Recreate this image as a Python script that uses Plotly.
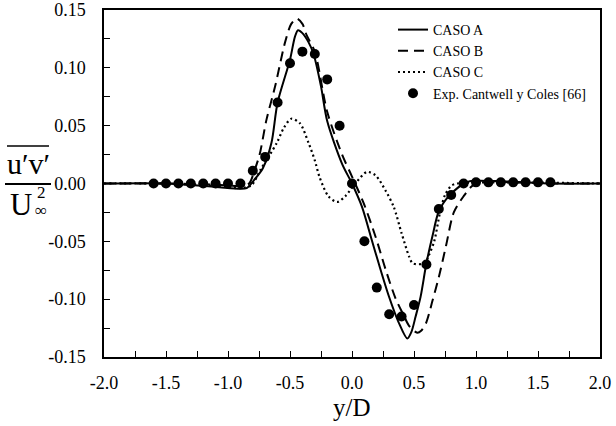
import plotly.graph_objects as go

# ---------------- data ----------------
caso_a_x = [-2.0, -1.5, -1.1, -0.9, -0.85, -0.79, -0.72, -0.65, -0.6, -0.5, -0.46, -0.435, -0.4,
            -0.35, -0.31, -0.25, -0.2, -0.08, 0.0, 0.08, 0.16, 0.215, 0.296, 0.376, 0.446, 0.48,
            0.513, 0.553, 0.6, 0.65, 0.7, 0.78, 0.85, 0.9, 0.95, 1.2, 1.4, 1.6, 2.0]
caso_a_y = [0.0, 0.0, -0.003, -0.0046, -0.004, 0.003, 0.013, 0.035, 0.07, 0.107, 0.127, 0.1325, 0.130,
            0.122, 0.112, 0.084, 0.054, 0.017, 0.0, -0.02, -0.049, -0.069, -0.097, -0.12, -0.134, -0.128,
            -0.115, -0.098, -0.069, -0.045, -0.024, -0.011, -0.004, 0.0, 0.002, 0.002, 0.001, 0.0, 0.0]

caso_b_x = [-2.0, -1.5, -1.1, -0.9, -0.83, -0.785, -0.745, -0.69, -0.62, -0.54, -0.49, -0.446, -0.4,
            -0.365, -0.3, -0.2, -0.08, 0.0, 0.094, 0.19, 0.27, 0.35, 0.417, 0.46, 0.526, 0.56,
            0.596, 0.65, 0.7, 0.758, 0.821, 0.9, 0.97, 1.05, 1.3, 1.6, 2.0]
caso_b_y = [0.0, 0.0, -0.001, -0.002, 0.0, 0.0117, 0.025, 0.055, 0.084, 0.122, 0.138, 0.1426, 0.138,
            0.128, 0.114, 0.062, 0.025, 0.006, -0.017, -0.046, -0.074, -0.099, -0.114, -0.123, -0.129, -0.127,
            -0.121, -0.101, -0.081, -0.054, -0.025, -0.011, -0.002, 0.001, 0.001, 0.0, 0.0]

caso_c_x = [-2.0, -1.5, -1.1, -0.9, -0.81, -0.74, -0.607, -0.55, -0.49, -0.42, -0.35, -0.30, -0.26,
            -0.19, -0.12, -0.054, 0.027, 0.12, 0.19, 0.27, 0.336, 0.40, 0.46, 0.49, 0.585, 0.62,
            0.663, 0.71, 0.75, 0.8, 0.85, 1.2, 2.0]
caso_c_y = [0.0, 0.0, -0.002, -0.004, -0.0014, 0.0115, 0.035, 0.048, 0.056, 0.052, 0.035, 0.02, 0.005,
            -0.011, -0.016, -0.011, 0.0, 0.01, 0.007, -0.006, -0.02, -0.043, -0.063, -0.069, -0.069, -0.062,
            -0.05, -0.025, -0.01, -0.002, 0.0, 0.001, 0.0]

exp_x = [-1.6, -1.5, -1.4, -1.3, -1.2, -1.1, -1.0, -0.9, -0.8, -0.7, -0.6, -0.5, -0.4, -0.3, -0.2,
         -0.1, 0.0, 0.1, 0.2, 0.3, 0.4, 0.5, 0.6, 0.7, 0.8, 0.9, 1.0, 1.1, 1.2, 1.3, 1.4, 1.5, 1.6]
exp_y = [0.0, 0.0, 0.0, 0.0, 0.0, 0.0, 0.0, 0.0, 0.011, 0.023, 0.070, 0.104, 0.114, 0.112, 0.090,
         0.050, 0.0, -0.050, -0.090, -0.113, -0.115, -0.105, -0.070, -0.022, -0.010, 0.0, 0.001,
         0.001, 0.001, 0.001, 0.001, 0.001, 0.001]

x_tickvals = [-2.0, -1.5, -1.0, -0.5, 0.0, 0.5, 1.0, 1.5, 2.0]
x_ticktext = ["-2.0", "-1.5", "-1.0", "-0.5", "0.0", "0.5", "1.0", "1.5", "2.0"]
y_tickvals = [-0.15, -0.10, -0.05, 0.0, 0.05, 0.10, 0.15]
y_ticktext = ["-0.15", "-0.10", "-0.05", "0.00", "0.05", "0.10", "0.15"]

names = ["CASO A", "CASO B", "CASO C", "Exp. Cantwell y Coles [66]"]

# ---------------- layout geometry (screen pixels of the target) ----------------
W, H = 616, 426
SL, SR, ST, SB = 104, 600, 10, 357   # plot box on screen
ML, MT = SL, ST
MR, MB = W - SR, H - SB
PW, PH = SR - SL, SB - ST


def px_x(p):
    return (p - SL) / PW


def px_y(p):
    return (SB - p) / PH


serif = "Liberation Serif"

fig = go.Figure()
fig.add_trace(go.Scatter(x=caso_a_x, y=caso_a_y, mode="lines", name=names[0],
                         line=dict(color="black", width=2, shape="spline", smoothing=0.8)))
fig.add_trace(go.Scatter(x=caso_b_x, y=caso_b_y, mode="lines", name=names[1],
                         line=dict(color="black", width=2, dash="10px,6px", shape="spline", smoothing=0.8)))
fig.add_trace(go.Scatter(x=caso_c_x, y=caso_c_y, mode="lines", name=names[2],
                         line=dict(color="black", width=2.2, dash="2px,3px", shape="spline", smoothing=0.8)))
fig.add_trace(go.Scatter(x=exp_x, y=exp_y, mode="markers", name=names[3],
                         marker=dict(color="black", size=10)))

axis_common = dict(showgrid=False, zeroline=False, showline=True, linecolor="black", linewidth=1.5,
                   mirror=True, ticks="inside", ticklen=6, tickcolor="black",
                   tickfont=dict(family=serif, size=18, color="black"))

fig.update_layout(
    width=W, height=H,
    margin=dict(l=ML, r=MR, t=MT, b=MB, autoexpand=False),
    paper_bgcolor="white", plot_bgcolor="white",
    showlegend=True,
    legend=dict(x=px_x(393), y=px_y(14), xanchor="left", yanchor="top",
                bgcolor="rgba(0,0,0,0)", font=dict(family=serif, size=14, color="black"),
                tracegroupgap=0, itemwidth=30),
    xaxis=dict(range=[-2, 2], tickmode="array", tickvals=x_tickvals, ticktext=x_ticktext,
               ticklabelstandoff=9,
               minor=dict(dtick=0.25, tick0=0, ticks="inside", ticklen=6, tickcolor="black"),
               **axis_common),
    yaxis=dict(range=[-0.15, 0.15], tickmode="array", tickvals=y_tickvals, ticktext=y_ticktext,
               ticklabelstandoff=13,
               minor=dict(dtick=0.025, tick0=0, ticks="inside", ticklen=6, tickcolor="black"),
               **axis_common),
)

# x-axis title
fig.add_annotation(text="y/D", xref="paper", yref="paper", x=0.5, y=px_y(408),
                   xanchor="center", yanchor="middle", showarrow=False,
                   font=dict(family=serif, size=25, color="black"))

# y-axis title as a fraction  (u'v' overlined) / U_inf^2
fig.add_annotation(text="u′v′", xref="paper", yref="paper", x=px_x(28), y=px_y(163),
                   xanchor="center", yanchor="middle", showarrow=False,
                   font=dict(family=serif, size=30, color="black"))
fig.add_annotation(text="U", xref="paper", yref="paper", x=px_x(21), y=px_y(204),
                   xanchor="center", yanchor="middle", showarrow=False,
                   font=dict(family=serif, size=31, color="black"))
fig.add_annotation(text="2", xref="paper", yref="paper", x=px_x(41), y=px_y(192),
                   xanchor="center", yanchor="middle", showarrow=False,
                   font=dict(family=serif, size=17, color="black"))
fig.add_annotation(text="∞", xref="paper", yref="paper", x=px_x(41), y=px_y(210),
                   xanchor="center", yanchor="middle", showarrow=False,
                   font=dict(family=serif, size=17, color="black"))
fig.add_shape(type="line", xref="paper", yref="paper", x0=px_x(7), x1=px_x(49),
              y0=px_y(146), y1=px_y(146), line=dict(color="black", width=1.5))
fig.add_shape(type="line", xref="paper", yref="paper", x0=px_x(5), x1=px_x(51),
              y0=px_y(184), y1=px_y(184), line=dict(color="black", width=2))

fig.write_html("out.html",
               config={"displayModeBar": False},
               post_script="document.body.style.margin='0px';document.body.style.overflow='hidden';")
